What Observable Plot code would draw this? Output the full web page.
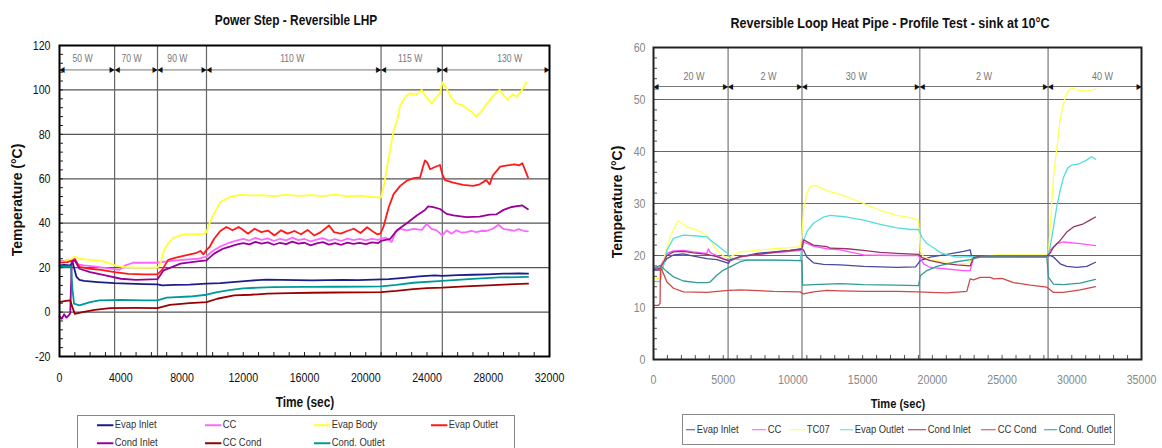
<!DOCTYPE html>
<html><head><meta charset="utf-8">
<script src="https://cdn.jsdelivr.net/npm/d3@7"></script>
<script src="https://cdn.jsdelivr.net/npm/@observablehq/plot@0.6"></script>
<style>
body{margin:0;background:#fff;}
#page{position:relative;width:1162px;height:448px;overflow:hidden;background:#fff;font-family:"Liberation Sans",Arial,sans-serif;}
.abs{position:absolute;white-space:nowrap;line-height:1;}
.title{font-weight:bold;font-size:14.5px;color:#111;transform:translate(-50%,-50%) scaleX(0.82);}
.ytitle{font-weight:bold;font-size:14px;color:#111;transform:translate(-50%,-50%) rotate(-90deg);}
.xtitle{font-weight:bold;font-size:14.5px;color:#111;transform:translate(-50%,-50%) scaleX(0.82);}
.lbox{position:absolute;border:1px solid #888;background:#fff;box-sizing:border-box;}
.item{position:absolute;font-size:11.5px;color:#333;transform-origin:0 50%;transform:translateY(-50%) scaleX(0.82);white-space:nowrap;line-height:1;}
.sw{display:inline-block;vertical-align:middle;height:0;margin-right:2px;}
svg{position:absolute;top:0;}
</style></head><body><div id="page"></div>
<script>
// ---------------- LEFT CHART DATA: Power Step - Reversible LHP ----------------
const leftNames = ["Evap Inlet","CC","Evap Body","Evap Outlet","Cond Inlet","CC Cond","Cond. Outlet"];
const leftXTicks = [0,4000,8000,12000,16000,20000,24000,28000,32000];
const leftYTicks = [-20,0,20,40,60,80,100,120];
const leftStepLabels = ["50 W","70 W","90 W","110 W","115 W","130 W"];
const leftStepStart = [0,3600,6400,9600,21000,25000];
const leftStepEnd = [3600,6400,9600,21000,25000,32000];
const leftStepLabelX = [1500,4700,7700,15200,22900,29400];

const leftEvapInlet = [[0,21],[300,21.2],[700,21],[850,22.5],[950,20],[1100,16],[1300,14.5],[1600,14],[2500,13.5],[3600,13],[4500,12.8],[5500,12.6],[6400,12.5],[6700,12],[7500,12.2],[8500,12.4],[9600,12.8],[10500,13],[11500,13.6],[12500,14.2],[13500,14.6],[14500,14.5],[15500,14.4],[16500,14.3],[17500,14.4],[18500,14.5],[19500,14.4],[20500,14.6],[21500,14.8],[22500,15.4],[23500,16.1],[24500,16.5],[25000,16.3],[26000,16.6],[27000,16.8],[28000,17],[29000,17.3],[30000,17.4],[30600,17.3]];
const leftCC = [[0,23],[400,23.2],[800,23.5],[1000,24],[1200,21.5],[1600,21],[2500,20.3],[3600,19.3],[3900,19],[4300,21],[4800,22.2],[5500,22.3],[6400,22.2],[7000,22.8],[8000,23.5],[9000,24],[9600,25],[10000,27.5],[10500,29.5],[11000,31],[11500,32],[12000,33],[12400,32.2],[12800,33.4],[13200,32.5],[13600,33.2],[14000,32],[14400,33],[14800,32.3],[15200,33.5],[15600,32.4],[16000,32.9],[16400,31.8],[16800,32.6],[17200,33.3],[17600,32.2],[18000,32.8],[18400,32],[18800,33.1],[19200,32.4],[19600,32.9],[20000,32.3],[20400,33],[20800,32.5],[21000,33],[21300,33.5],[21700,31.5],[21930,36],[22250,37.5],[22680,36.8],[23120,37.5],[23660,37],[23980,39.7],[24300,37.5],[24630,36.8],[25000,34.5],[25280,36.8],[25600,35.3],[25920,36.8],[26250,35.8],[26570,36],[26900,36.5],[27220,36],[27550,36.6],[27870,36.5],[28300,37.5],[28660,39.3],[29020,37.3],[29400,37],[29700,36.6],[29990,37.3],[30300,36.6],[30590,36.3]];
const leftEvapBody = [[0,22.5],[500,23],[800,24],[1000,25],[1300,24],[2000,23.5],[2700,23],[3300,22],[3600,21],[4100,20.3],[5000,20],[6400,20],[6600,22],[6800,27.5],[7100,31],[7450,33.5],[8100,35],[8800,35],[9400,35.2],[9600,36],[9800,40],[10100,44.5],[10500,49.5],[11200,52],[11800,52.8],[12400,52.5],[13200,52.6],[14000,52.2],[14800,52.8],[15600,52.3],[16400,52.6],[17200,52.2],[18000,52.9],[18800,52.1],[19600,52.4],[20400,51.8],[21000,51.6],[21200,57.5],[21500,69.5],[21800,81],[22050,86.5],[22250,93],[22600,97],[22900,98.5],[23300,97.8],[23650,100],[24000,96.3],[24300,94],[24650,97],[24850,98.5],[25000,103.5],[25300,100.5],[25600,96.3],[25900,94],[26250,93.3],[26550,91.8],[26900,90.3],[27200,88],[27550,90.3],[27850,93.3],[28200,96.3],[28500,98.5],[28750,100],[29000,97.5],[29270,95.5],[29600,98],[29870,97],[30200,100],[30500,103.5]];
const leftEvapOutlet = [[0,22.3],[500,22.5],[800,23],[1000,23.8],[1300,20.3],[2000,19.5],[2700,19],[3600,18],[4500,17.2],[5500,17],[6400,17],[6700,19],[7100,23.5],[7600,24.5],[8300,25.6],[8900,26.5],[9200,27.5],[9400,26],[9600,28],[9800,29.3],[10100,33],[10500,36.5],[10900,38.3],[11300,36.8],[11700,38.3],[11880,37.5],[12310,35.3],[12740,37.5],[13180,36],[13610,36.7],[14040,34.5],[14470,36.8],[14900,35.3],[15340,36.5],[15770,35],[16200,37],[16630,34.5],[17060,36],[17600,39],[17930,36],[18360,35.3],[18790,36.5],[19220,37.5],[19660,35.6],[20090,38.2],[20520,36],[20750,35],[20950,35.3],[21150,38.2],[21500,47.2],[21820,53.1],[22250,56.8],[22680,59.1],[23120,60.3],[23550,60.6],[23720,65],[23870,68.3],[24020,67.3],[24200,64.3],[24520,65.3],[24850,66.2],[25000,62],[25180,59.4],[25720,58.3],[26360,57.3],[27010,56.8],[27440,57.5],[27870,59.4],[28090,57.5],[28300,61.5],[28780,65.5],[29260,66],[29700,66.5],[30000,66],[30230,67],[30400,64],[30600,60.5]];
const leftCondInlet = [[0,-2],[150,-3],[300,-1],[450,-2.5],[600,-1.5],[700,-0.5],[800,22.5],[1000,23.3],[1300,19.5],[2000,18],[3000,16.5],[4000,15],[5000,14.5],[6400,14.8],[6800,18.8],[7900,21.8],[9000,22.8],[9600,23.3],[10100,26.3],[10700,28.6],[11600,30.5],[12000,31],[12400,30.5],[12800,31.6],[13200,30.8],[13600,31.4],[14000,30.3],[14400,31.2],[14800,30.6],[15200,31.7],[15600,30.8],[16000,31.2],[16400,30],[16800,30.9],[17200,31.5],[17600,30.4],[18000,31],[18400,30.3],[18800,31.3],[19200,30.7],[19600,31.2],[20000,30.6],[20400,31.4],[20800,31],[21000,32],[21600,33],[22040,36.8],[22680,40],[23330,43.5],[23870,46],[24080,47.6],[24410,47.2],[24850,46.4],[25280,44.2],[25720,43.5],[26570,42.7],[27440,43],[28080,43.9],[28540,44],[29000,46],[29510,47.3],[30230,48],[30590,46.3]];
const leftCCCond = [[0,4.5],[400,5],[700,5.3],[850,2],[1000,-0.8],[1500,0],[2300,1],[3300,1.8],[5000,1.9],[6400,1.8],[7200,3.2],[8500,4],[9600,4.5],[10300,6],[11400,7.5],[12500,7.8],[13600,8.3],[15000,8.5],[16500,8.7],[18000,8.8],[19500,8.9],[21000,9],[22000,9.5],[23100,10.3],[24000,10.8],[25000,11],[26500,11.6],[28000,12],[29000,12.4],[30600,12.8]];
const leftCondOutlet = [[0,20.6],[400,20.6],[750,20.6],[850,10],[950,3.8],[1300,3],[2000,4.5],[2600,5.3],[4000,5.5],[5500,5.3],[6400,5.3],[7000,6.5],[8500,7],[9600,7.8],[10300,9],[11200,10],[12000,10.7],[13000,11],[14000,11.2],[16000,11.3],[18000,11.4],[20000,11.5],[21000,11.6],[22000,12.2],[23100,13.2],[25000,14],[27000,14.9],[28700,15.6],[30600,15.8]];

// ---------------- RIGHT CHART DATA: Profile Test - sink at 10°C ----------------
const rightNames = ["Evap Inlet","CC","TC07","Evap Outlet","Cond Inlet","CC Cond","Cond. Outlet"];
const rightXTicks = [0,5000,10000,15000,20000,25000,30000,35000];
const rightYTicks = [0,10,20,30,40,50,60];
const rightStepLabels = ["20 W","2 W","30 W","2 W","40 W"];
const rightStepStart = [0,5350,10650,19100,28300];
const rightStepEnd = [5350,10650,19100,28300,35000];
const rightStepLabelX = [2900,8250,14550,23700,32200];

const rightEvapInlet = [[0,17.2],[480,17.2],[600,18],[960,19.4],[1430,20.1],[2150,20.3],[2870,19.9],[3820,19.4],[4540,19.2],[5020,18.8],[5380,18.5],[5500,19],[6210,19.7],[7410,20.4],[8600,20.7],[9800,21],[10640,21.3],[10760,21],[11000,19.7],[11470,18.6],[12190,18.3],[13380,18.2],[15070,17.9],[17460,17.7],[18800,17.8],[19130,19],[19850,19.7],[21040,20.2],[22240,20.8],[22710,21.1],[22800,20],[23430,19.8],[25000,19.9],[27000,19.9],[28210,19.9],[28450,20],[28690,19.7],[29170,18.4],[29640,17.9],[30360,17.7],[31080,17.9],[31700,18.7]];
const rightCC = [[0,17.5],[480,17.8],[960,20.4],[1430,20.9],[2150,21],[2870,20.7],[3820,20.4],[3940,21.3],[4060,20.6],[4180,20.4],[5020,19.4],[5380,19],[6210,19.8],[8600,20.5],[10640,21],[10760,22.6],[11470,21.8],[12430,21.3],[13380,21.1],[15070,20.1],[17460,20],[19000,20],[19370,18.4],[19850,17.7],[21040,17.4],[22240,17.1],[22710,17.1],[22950,19.5],[23430,19.8],[28210,19.8],[28450,21],[28930,22.3],[29400,22.6],[30600,22.3],[31700,21.9]];
const rightTC07 = [[0,15.6],[480,15.6],[530,17],[840,20.4],[1200,23.6],[1670,26.2],[1790,26.7],[2390,25.5],[3110,24.9],[3820,23.9],[4060,23],[4540,21],[5020,19.9],[5380,19.6],[6210,20.7],[7410,21],[8600,21.3],[9800,21.5],[10520,21.7],[10640,23.9],[10760,28.7],[10990,31.9],[11230,33.2],[11590,33.5],[12070,32.9],[12670,32.3],[13870,31.3],[15070,30],[16260,28.7],[17460,27.7],[18410,27.3],[19010,26.8],[19130,21],[19370,19.7],[19850,19.2],[20800,18.8],[21760,18.5],[22470,18.4],[22950,19.6],[23430,19.8],[24630,20.1],[27000,20.1],[28210,20.1],[28330,20.5],[28450,25.5],[28690,35.2],[28900,40],[29150,46],[29480,50],[29700,51.5],[30000,52.2],[30500,51.8],[31000,51.6],[31700,52]];
const rightEvapOutlet = [[0,15],[480,15],[600,16.5],[960,21],[1430,23.3],[2150,23.9],[2870,23.8],[3820,23.6],[4060,23],[4540,22],[5020,21],[5380,20.3],[5500,19.5],[6210,19.2],[8600,19.1],[10520,19],[10640,21.7],[10990,24.6],[11470,26.2],[12190,27.4],[12670,27.7],[13870,27.4],[15070,26.8],[16260,26],[17460,25.3],[18410,25],[19010,25],[19250,23.5],[19610,22.3],[20080,21.5],[20560,20.6],[21040,20.1],[21760,19.7],[22700,19.8],[23430,19.7],[24630,19.8],[27000,19.7],[28210,19.7],[28450,21.6],[28690,25.5],[28930,29.5],[29170,32.5],[29400,35],[29700,36.8],[30000,37.4],[30500,37.6],[31030,38.3],[31420,39],[31700,38.5]];
const rightCondInlet = [[0,17.3],[480,17.5],[960,20],[1430,20.7],[2150,20.8],[2870,20.5],[3820,20.2],[4540,19.8],[5020,19.3],[5380,19],[6210,19.8],[8600,20.6],[10640,21.2],[10760,23],[11470,22],[12430,21.7],[12680,21.4],[13870,21.3],[15070,21],[16260,20.6],[17460,20.4],[19010,20.2],[19250,19.6],[19850,19],[20800,18.5],[21760,18.2],[22710,18],[22950,19.6],[23430,19.9],[28210,19.9],[28450,20.5],[28690,21.6],[29170,22.9],[29640,24.5],[30120,25.5],[30840,26.1],[31300,26.8],[31700,27.4]];
const rightCCCond = [[0,10.4],[360,10.4],[470,10.8],[500,17.8],[720,16.5],[960,14.9],[1430,13.7],[2150,13],[3820,12.9],[5380,13.3],[6210,13.4],[8600,13.1],[10520,13],[10750,12.6],[11470,13],[12430,13.3],[13400,13.2],[15070,13.1],[17460,13.1],[19010,13],[19850,12.9],[21040,12.8],[22470,13.1],[22710,15.5],[22950,15.3],[23430,15.8],[24150,15.8],[24400,15.5],[25000,15.6],[25820,14.8],[27010,14.3],[28210,13.9],[28690,12.9],[29400,12.9],[30600,13.4],[31700,14]];
const rightCondOutlet = [[0,17.5],[480,18.1],[960,16.9],[1430,15.9],[2150,15.1],[3110,14.8],[3820,14.8],[4060,14.9],[4540,16.2],[5020,17.2],[5500,17.8],[6210,18.8],[6690,19.1],[8600,19.1],[10640,19],[10690,14.3],[11470,14.4],[13380,14.6],[15070,14.4],[17460,14.3],[19010,14.2],[19130,16.1],[19610,17.1],[20320,17.9],[21520,18.7],[22710,19.2],[23430,19.7],[28210,19.7],[28330,15.8],[28690,14.5],[29400,14.4],[30600,14.7],[31700,15.4]];

// ---------------- styles ----------------
const FONT = '"Liberation Sans",Arial,sans-serif';
const NARROW_K = 0.82;
const leftColors = ["#1c1c8a","#ff66ff","#ffff33","#ff1a1a","#990099","#990000","#009999"];
const rightColors = ["#4a4a9e","#ff55ff","#ffff55","#55dddd","#993366","#d04848","#339999"];

function range(a,b,s){const r=[];for(let v=a;v<=b+1e-9;v+=s)r.push(+v.toFixed(6));return r;}

// horizontally condense every SVG text about its own anchor point
function condense(svg,k){
  svg.querySelectorAll("text").forEach(t=>{
    const tr = t.getAttribute("transform")||"";
    t.setAttribute("transform", `${tr} scale(${k},1)`);
    ["x","dx"].forEach(a=>{
      const v = t.getAttribute(a);
      if (v !== null && /^-?[\d.]+$/.test(v)) t.setAttribute(a, (+v)/k);
    });
  });
}

function makeChart(c){
  const pw = c.width - c.marginLeft - c.marginRight;
  const ph = c.height - c.marginTop - c.marginBottom;
  const steps = c.stepLabels.map((n,i)=>({name:n, a:c.stepStart[i], b:c.stepEnd[i], lx:c.stepLabelX[i]}));
  const lines = c.series.map((s,i)=>Plot.line(s,{x:d=>d[0], y:d=>d[1], stroke:c.colors[i], strokeWidth:c.lineWidth, strokeLinejoin:"round"}));
  const svg = Plot.plot({
    width:c.width, height:c.height,
    marginLeft:c.marginLeft, marginRight:c.marginRight, marginTop:c.marginTop, marginBottom:c.marginBottom,
    x:{domain:c.xDomain, label:null},
    y:{domain:c.yDomain, label:null},
    style:{fontFamily:FONT, fontSize:"13px", color:c.tickColor, background:"transparent", overflow:"visible"},
    marks:[
      Plot.ruleY(c.yTicks,{stroke:c.gridColor, strokeWidth:1.2}),
      Plot.ruleX(c.stepStart.slice(1),{stroke:c.vColor, strokeWidth:1.2}),
      Plot.ruleY(c.yMinor,{insetRight:pw-4, stroke:c.minorColor}),
      Plot.ruleX(c.xMinor,{insetTop:ph-4, stroke:c.minorColor}),
      Plot.link(steps,{x1:"a", x2:"b", y1:()=>c.arrowY, y2:()=>c.arrowY, stroke:"#777", strokeWidth:1}),
      Plot.text(steps,{x:"b", y:()=>c.arrowY, text:()=>"\u25B6", textAnchor:"end", fontSize:8, fill:"#111", fontFamily:"DejaVu Sans"}),
      Plot.text(steps,{x:"a", y:()=>c.arrowY, text:()=>"\u25C0", textAnchor:"start", fontSize:8, fill:"#111", fontFamily:"DejaVu Sans"}),
      Plot.text(steps,{x:"lx", y:()=>c.labelY, text:"name", fill:"#777", fontSize:c.stepFont}),
      ...lines,
      Plot.frame({stroke:c.frameColor, strokeWidth:2}),
      Plot.axisX({ticks:c.xTicks, tickFormat:d=>String(d), tickSize:0, tickPadding:c.xPad, fill:c.tickColor}),
      Plot.axisY({ticks:c.yTicks, tickFormat:d=>String(d), tickSize:0, tickPadding:c.yPad, fill:c.tickColor})
    ]
  });
  condense(svg, NARROW_K);
  return svg;
}

const page = document.getElementById("page");

const left = makeChart({
  width:580, height:410, marginLeft:59, marginRight:31, marginTop:45, marginBottom:54,
  xDomain:[0,32000], yDomain:[-20,120], xTicks:leftXTicks, yTicks:leftYTicks,
  xMinor:range(0,32000,1000), yMinor:range(-20,120,4),
  stepLabels:leftStepLabels, stepStart:leftStepStart, stepEnd:leftStepEnd, stepLabelX:leftStepLabelX,
  arrowY:109, labelY:114.2, stepFont:10.5,
  series:[leftEvapInlet,leftCC,leftEvapBody,leftEvapOutlet,leftCondInlet,leftCCCond,leftCondOutlet],
  colors:leftColors, lineWidth:1.8,
  gridColor:"#555", vColor:"#666", minorColor:"#222", frameColor:"#000", tickColor:"#111",
  xPad:16, yPad:9
});
left.style.left = "0px";
page.appendChild(left);

const right = makeChart({
  width:580, height:410, marginLeft:71, marginRight:21, marginTop:47, marginBottom:51,
  xDomain:[0,35000], yDomain:[0,60], xTicks:rightXTicks, yTicks:rightYTicks,
  xMinor:range(0,35000,1000), yMinor:range(0,60,2),
  stepLabels:rightStepLabels, stepStart:rightStepStart, stepEnd:rightStepEnd, stepLabelX:rightStepLabelX,
  arrowY:52.5, labelY:54.5, stepFont:11,
  series:[rightEvapInlet,rightCC,rightTC07,rightEvapOutlet,rightCondInlet,rightCCCond,rightCondOutlet],
  colors:rightColors, lineWidth:1.3,
  gridColor:"#666", vColor:"#777", minorColor:"#555", frameColor:"#222", tickColor:"#888",
  xPad:15, yPad:8
});
right.style.left = "582px";
page.appendChild(right);

function addText(cls, txt, x, y, size){
  const d = document.createElement("div");
  d.className = "abs " + cls; d.textContent = txt;
  d.style.left = x + "px"; d.style.top = y + "px";
  if (size) d.style.fontSize = size + "px";
  page.appendChild(d);
}
addText("title","Power Step - Reversible LHP",296,20,14.5);
addText("title","Reversible Loop Heat Pipe - Profile Test - sink at 10°C",890,23,15.3);
addText("ytitle","Temperature (°C)",17,200);
addText("ytitle","Temperature (°C)",617,202);
addText("xtitle","Time (sec)",305,402,14.5);
addText("xtitle","Time (sec)",898,404,13.5);

function addBox(x,y,w,h){
  const b = document.createElement("div"); b.className="lbox";
  Object.assign(b.style,{left:x+"px",top:y+"px",width:w+"px",height:h+"px"});
  page.appendChild(b);
}
function addItem(name,color,x,y,swLen,swW){
  const d = document.createElement("div"); d.className="item";
  d.style.left = x+"px"; d.style.top = y+"px";
  const s = document.createElement("span"); s.className="sw";
  s.style.width = (swLen/NARROW_K)+"px"; s.style.borderTop = swW+"px solid "+color;
  d.appendChild(s); d.appendChild(document.createTextNode(name));
  page.appendChild(d);
}
addBox(77,415,438,40);
const leftLegX = [97,205,314,431,97,205,314];
const leftLegY = [425,425,425,425,443,443,443];
leftNames.forEach((n,i)=>addItem(n,leftColors[i],leftLegX[i],leftLegY[i],16,2));
addBox(682,414,433,31);
const rightLegX = [686,752,789,840,908,981,1044];
const rightLegLen = [9,14,16,13,18,15,13];
rightNames.forEach((n,i)=>addItem(n,rightColors[i],rightLegX[i],430,rightLegLen[i],1.5));
</script></body></html>
